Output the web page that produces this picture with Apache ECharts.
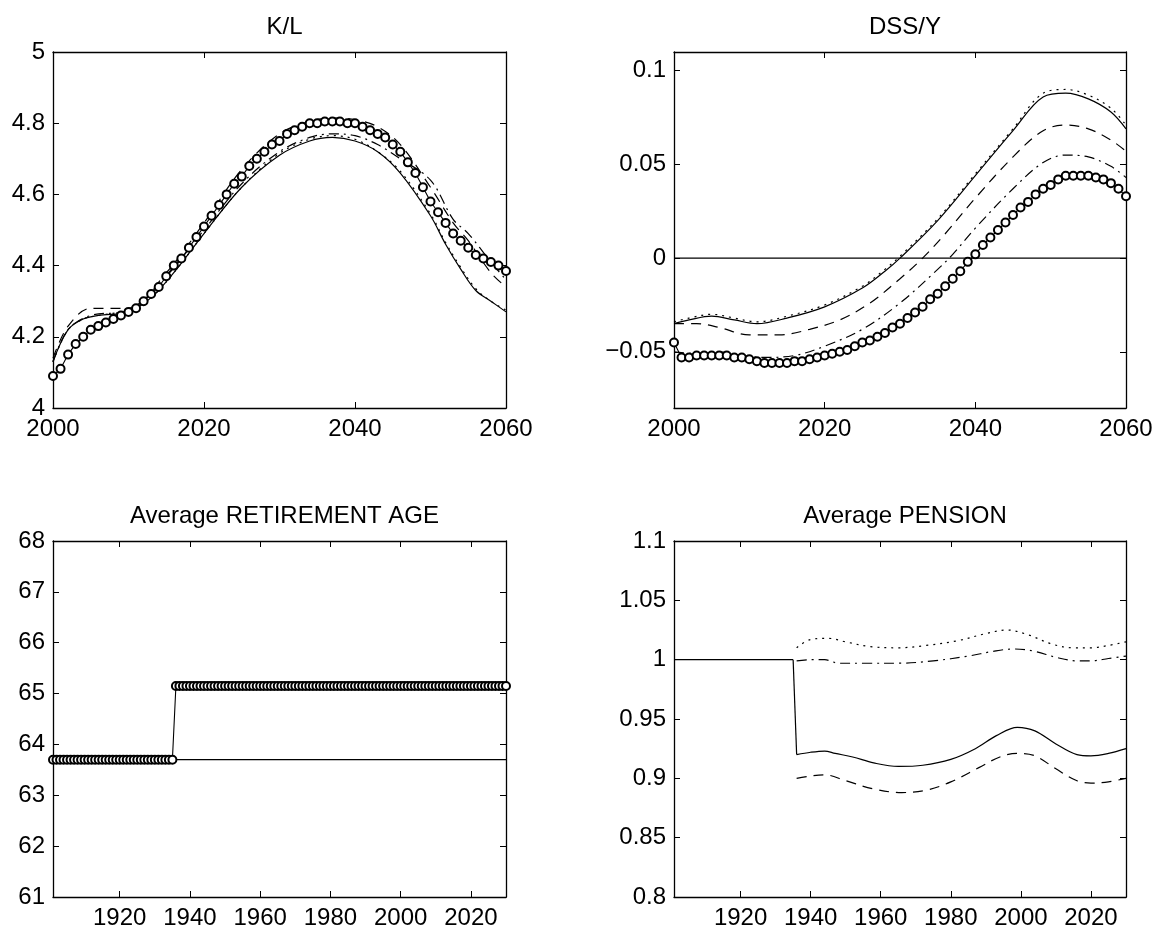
<!DOCTYPE html>
<html>
<head>
<meta charset="utf-8">
<script src="https://cdn.jsdelivr.net/npm/echarts@6/dist/echarts.min.js"></script>
<style>
html,body{margin:0;padding:0;background:#fff;}
#main{width:1164px;height:937px;}
</style>
</head>
<body>
<div id="main"></div>
<script>
// ---- data ----
var klYears = [2000,2001,2002,2003,2004,2005,2006,2007,2008,2009,2010,2011,2012,2013,2014,2015,2016,2017,2018,2019,2020,2021,2022,2023,2024,2025,2026,2027,2028,2029,2030,2031,2032,2033,2034,2035,2036,2037,2038,2039,2040,2041,2042,2043,2044,2045,2046,2047,2048,2049,2050,2051,2052,2053,2054,2055,2056,2057,2058,2059,2060];
var klCircles = [4.09,4.11,4.15,4.18,4.20,4.22,4.23,4.24,4.25,4.26,4.27,4.28,4.30,4.32,4.34,4.37,4.40,4.42,4.45,4.48,4.51,4.54,4.57,4.60,4.63,4.65,4.68,4.70,4.72,4.74,4.75,4.77,4.78,4.79,4.80,4.80,4.805,4.805,4.805,4.80,4.80,4.79,4.78,4.77,4.76,4.74,4.72,4.69,4.66,4.62,4.58,4.55,4.52,4.49,4.47,4.45,4.43,4.42,4.41,4.40,4.385];
var klSolid = [[2000,4.13],[2002,4.22],[2004,4.25],[2006,4.26],[2010,4.27],[2013,4.31],[2016,4.38],[2020,4.49],[2025,4.62],[2030,4.71],[2034,4.75],[2037,4.76],[2040,4.75],[2043,4.72],[2046,4.66],[2050,4.54],[2052,4.46],[2054,4.39],[2056,4.33],[2058,4.30],[2060,4.27]];
var klDotted = [[2000,4.13],[2002,4.22],[2004,4.25],[2006,4.26],[2010,4.275],[2013,4.31],[2016,4.38],[2020,4.49],[2025,4.62],[2030,4.715],[2034,4.755],[2037,4.765],[2040,4.755],[2043,4.72],[2046,4.665],[2050,4.545],[2052,4.465],[2054,4.395],[2056,4.335],[2058,4.30],[2060,4.275]];
var klDashed = [[2000,4.14],[2002,4.23],[2005,4.28],[2008,4.28],[2010,4.28],[2015,4.38],[2020,4.52],[2025,4.67],[2030,4.77],[2034,4.805],[2037,4.815],[2040,4.81],[2043,4.79],[2046,4.74],[2050,4.62],[2053,4.52],[2055,4.47],[2058,4.38],[2060,4.34]];
var klDashDot = [[2000,4.13],[2002,4.22],[2005,4.26],[2010,4.275],[2015,4.37],[2020,4.50],[2025,4.63],[2030,4.72],[2034,4.76],[2037,4.77],[2040,4.765],[2043,4.74],[2046,4.70],[2050,4.64],[2053,4.53],[2055,4.49],[2058,4.41],[2060,4.36]];

var dssCircles = [-0.045,-0.053,-0.053,-0.052,-0.052,-0.052,-0.052,-0.052,-0.053,-0.053,-0.054,-0.055,-0.056,-0.056,-0.056,-0.056,-0.055,-0.055,-0.054,-0.053,-0.052,-0.051,-0.050,-0.049,-0.047,-0.045,-0.044,-0.042,-0.040,-0.037,-0.035,-0.032,-0.029,-0.026,-0.022,-0.019,-0.015,-0.011,-0.007,-0.002,0.002,0.007,0.011,0.015,0.019,0.023,0.027,0.030,0.034,0.037,0.039,0.042,0.044,0.044,0.044,0.044,0.043,0.042,0.040,0.037,0.033];
var dssSolid = [[2000,-0.035],[2002,-0.033],[2005,-0.031],[2008,-0.033],[2011,-0.035],[2015,-0.032],[2020,-0.026],[2025,-0.016],[2028,-0.007],[2030,0.000],[2035,0.020],[2040,0.044],[2045,0.068],[2049,0.086],[2052,0.088],[2055,0.085],[2058,0.078],[2060,0.069]];
var dssDotted = [[2000,-0.034],[2002,-0.032],[2005,-0.030],[2008,-0.032],[2011,-0.034],[2015,-0.031],[2020,-0.025],[2025,-0.015],[2028,-0.006],[2030,0.001],[2035,0.021],[2040,0.045],[2045,0.069],[2049,0.088],[2052,0.090],[2055,0.087],[2058,0.080],[2060,0.071]];
var dssDashed = [[2000,-0.035],[2003,-0.035],[2006,-0.037],[2010,-0.041],[2014,-0.041],[2018,-0.038],[2022,-0.033],[2026,-0.024],[2030,-0.011],[2033,0.000],[2036,0.013],[2040,0.032],[2045,0.054],[2049,0.068],[2052,0.071],[2055,0.069],[2058,0.063],[2060,0.057]];
var dssDashDot = [[2000,-0.050],[2003,-0.051],[2006,-0.050],[2009,-0.052],[2012,-0.053],[2016,-0.052],[2020,-0.047],[2025,-0.038],[2030,-0.024],[2035,-0.006],[2037,0.002],[2040,0.016],[2045,0.037],[2049,0.051],[2052,0.055],[2055,0.054],[2058,0.049],[2060,0.043]];
var dssZero = [[2000,0],[2060,0]];

var ageYears = [1901,1902,1903,1904,1905,1906,1907,1908,1909,1910,1911,1912,1913,1914,1915,1916,1917,1918,1919,1920,1921,1922,1923,1924,1925,1926,1927,1928,1929,1930,1931,1932,1933,1934,1935,1936,1937,1938,1939,1940,1941,1942,1943,1944,1945,1946,1947,1948,1949,1950,1951,1952,1953,1954,1955,1956,1957,1958,1959,1960,1961,1962,1963,1964,1965,1966,1967,1968,1969,1970,1971,1972,1973,1974,1975,1976,1977,1978,1979,1980,1981,1982,1983,1984,1985,1986,1987,1988,1989,1990,1991,1992,1993,1994,1995,1996,1997,1998,1999,2000,2001,2002,2003,2004,2005,2006,2007,2008,2009,2010,2011,2012,2013,2014,2015,2016,2017,2018,2019,2020,2021,2022,2023,2024,2025,2026,2027,2028,2029,2030];
var ageStepYear = 1936;   // first year at the higher retirement age
var ageBefore = 63.7;
var ageAfter = 65.15;
var ageBase = [[1901,63.7],[2030,63.7]];

var penFlat = [[1901,1],[1935,1]];
var penSolidDrop = [[1935,1],[1936,0.920]];
var penSolid = [[1936,0.920],[1940,0.922],[1944,0.923],[1947,0.921],[1952,0.918],[1958,0.913],[1965,0.910],[1972,0.911],[1980,0.916],[1987,0.925],[1993,0.936],[1999,0.943],[2004,0.940],[2010,0.929],[2016,0.920],[2020,0.919],[2025,0.921],[2030,0.925]];
var penDashed = [[1936,0.900],[1940,0.902],[1944,0.903],[1950,0.898],[1958,0.891],[1966,0.888],[1973,0.890],[1980,0.897],[1988,0.909],[1994,0.918],[1999,0.921],[2004,0.919],[2010,0.908],[2016,0.898],[2020,0.896],[2025,0.897],[2030,0.900]];
var penDotted = [[1936,1.010],[1940,1.017],[1945,1.018],[1950,1.015],[1957,1.011],[1965,1.010],[1973,1.012],[1982,1.016],[1990,1.022],[1996,1.025],[2002,1.021],[2009,1.013],[2015,1.010],[2020,1.010],[2025,1.012],[2030,1.015]];
var penDashDot = [[1936,0.999],[1940,1.000],[1944,1.000],[1948,0.997],[1956,0.997],[1965,0.997],[1975,0.999],[1985,1.003],[1992,1.007],[1998,1.009],[2004,1.007],[2010,1.002],[2016,0.999],[2020,0.999],[2025,1.001],[2030,1.003]];

var klTicks = [4,4.2,4.4,4.6,4.8,5];
var dssTicks = [-0.05,0,0.05,0.1];
var yearTicksTop = [2000,2020,2040,2060];
var yearTicksBottom = [1920,1940,1960,1980,2000,2020];

// ---- chart ----
var FONT = 'Liberation Sans';
var FS = 24;
var boxes = [
    {left:53, top:52, width:453, height:356},
    {left:674, top:52, width:452, height:356},
    {left:53, top:541, width:453, height:356},
    {left:674, top:541, width:452, height:356}
];

function fmt(v){
    var s = String(+v.toFixed(3));
    return s.replace('-', '\u2212');
}

var xAxes = [], yAxes = [];
function addAxes(gi, xr, yr){
    [false, true].forEach(function(mirror){
        xAxes.push({
            type:'value', gridIndex:gi, min:xr.min, max:xr.max,
            position: mirror ? 'top' : 'bottom',
            splitLine:{show:false},
            axisLine:{show:true, onZero:false, lineStyle:{color:'#000', width:1.3}},
            axisTick:{show:true, inside:true, length:6, lineStyle:{color:'#000'}, customValues:xr.ticks},
            axisLabel:{show:!mirror, color:'#000', fontSize:FS, fontFamily:FONT, margin:9, customValues:xr.ticks, formatter:fmt}
        });
        yAxes.push({
            type:'value', gridIndex:gi, min:yr.min, max:yr.max,
            position: mirror ? 'right' : 'left',
            splitLine:{show:false},
            axisLine:{show:true, onZero:false, lineStyle:{color:'#000', width:1.3}},
            axisTick:{show:true, inside:true, length:6, lineStyle:{color:'#000'}, customValues:yr.ticks},
            axisLabel:{show:!mirror, color:'#000', fontSize:FS, fontFamily:FONT, margin:8, customValues:yr.ticks, formatter:fmt}
        });
    });
}
addAxes(0, {min:2000, max:2060, ticks:yearTicksTop}, {min:4, max:5, ticks:klTicks});
addAxes(1, {min:2000, max:2060, ticks:yearTicksTop}, {min:-0.08, max:0.11, ticks:dssTicks});
addAxes(2, {min:1901, max:2030, ticks:yearTicksBottom}, {min:61, max:68, ticks:[61,62,63,64,65,66,67,68]});
addAxes(3, {min:1901, max:2030, ticks:yearTicksBottom}, {min:0.8, max:1.1, ticks:[0.8,0.85,0.9,0.95,1,1.05,1.1]});

var DASH = [10,7];
var DASHDOT = [10,5,2,5];
var DOT = [2,5];

function ln(gi, data, type, smooth){
    return {
        type:'line', xAxisIndex:gi*2, yAxisIndex:gi*2, data:data,
        showSymbol:false, symbol:'none', smooth: smooth === undefined ? 0.35 : smooth,
        animation:false, silent:true,
        lineStyle:{color:'#000', width:1.2, type:type}
    };
}
function circ(gi, data){
    return {
        type:'line', xAxisIndex:gi*2, yAxisIndex:gi*2, data:data,
        symbol:'emptyCircle', symbolSize:8, showSymbol:true, animation:false, silent:true,
        itemStyle:{color:'#000', borderColor:'#000', borderWidth:0.9},
        lineStyle:{color:'#000', width:1.1, type:'solid'}
    };
}

function zip(xs, ys){
    var out = [];
    for (var i = 0; i < xs.length; i++) out.push([xs[i], ys[i]]);
    return out;
}
var ageCircles = ageYears.map(function(y){ return [y, y < ageStepYear ? ageBefore : ageAfter]; });

var series = [
    ln(0, klDotted, DOT), ln(0, klDashed, DASH), ln(0, klDashDot, DASHDOT), ln(0, klSolid, 'solid'),
    circ(0, zip(klYears, klCircles)),
    ln(1, dssZero, 'solid', false),
    ln(1, dssDotted, DOT), ln(1, dssDashed, DASH), ln(1, dssDashDot, DASHDOT), ln(1, dssSolid, 'solid'),
    circ(1, zip(klYears, dssCircles)),
    ln(2, ageBase, 'solid', false),
    circ(2, ageCircles),
    ln(3, penFlat, 'solid', false), ln(3, penSolidDrop, 'solid', false),
    ln(3, penDotted, DOT), ln(3, penDashDot, DASHDOT), ln(3, penDashed, DASH), ln(3, penSolid, 'solid')
];

var titles = ['K/L', 'DSS/Y', 'Average RETIREMENT AGE', 'Average PENSION'];
var titleTops = [10, 10, 499, 499];

var myChart = echarts.init(document.getElementById('main'));
var option = {
    backgroundColor:'#fff',
    animation:false,
    title: titles.map(function(t, i){
        return {
            text:t, left: boxes[i].left + boxes[i].width / 2, top: titleTops[i], textAlign:'center',
            textStyle:{color:'#000', fontSize:FS, fontWeight:'normal', fontFamily:FONT}
        };
    }),
    grid: boxes,
    xAxis: xAxes,
    yAxis: yAxes,
    series: series
};
myChart.setOption(option);
</script>
</body>
</html>
